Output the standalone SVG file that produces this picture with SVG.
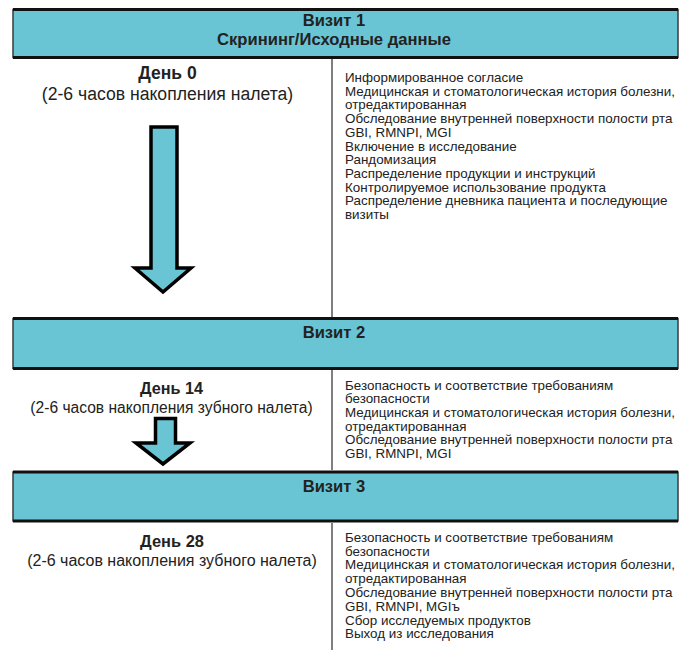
<svg xmlns="http://www.w3.org/2000/svg" width="686" height="650" viewBox="0 0 686 650">
<style>
.bg{fill:#ffffff}
.hdr{fill:#69C5D4;stroke:#3a3a3a;stroke-width:1.5}
.edge{stroke:#111;stroke-width:3}
.div{stroke:#555;stroke-width:1.5}
.t{font-family:"Liberation Sans",Arial,sans-serif;fill:#222}
.title{font-size:16.6px;font-weight:bold;text-anchor:middle}
.day{font-weight:bold;text-anchor:middle}
.sub{text-anchor:middle}
.list{font-size:13.4px}
.arrow{fill:#69C5D4;stroke:#000;stroke-width:3.5;stroke-linejoin:miter}
</style>
<rect class="bg" width="686" height="650"/>

<g id="visit1-header">
<rect class="hdr" x="13" y="9.5" width="665" height="48"/>
<line class="edge" x1="13" y1="9.5" x2="678" y2="9.5"/>
<line class="edge" x1="13" y1="57.5" x2="678" y2="57.5"/>
<text class="t title" x="334" y="26">Визит 1</text>
<text class="t title" x="334" y="45">Скрининг/Исходные данные</text>
</g>

<g id="visit1-day">
<text class="t day" x="167.5" y="79" font-size="17.5">День 0</text>
<text class="t sub" x="167.5" y="100" font-size="17.6">(2-6 часов накопления налета)</text>
</g>

<g id="visit1-list">
<text class="t list" x="345" y="82">
<tspan x="345">Информированное согласие</tspan>
<tspan x="345" dy="13.7">Медицинская и стоматологическая история болезни,</tspan>
<tspan x="345" dy="13.7">отредактированная</tspan>
<tspan x="345" dy="13.7">Обследование внутренней поверхности полости рта</tspan>
<tspan x="345" dy="13.7">GBI, RMNPI, MGI</tspan>
<tspan x="345" dy="13.7">Включение в исследование</tspan>
<tspan x="345" dy="13.7">Рандомизация</tspan>
<tspan x="345" dy="13.7">Распределение продукции и инструкций</tspan>
<tspan x="345" dy="13.7">Контролируемое использование продукта</tspan>
<tspan x="345" dy="13.7">Распределение дневника пациента и последующие</tspan>
<tspan x="345" dy="13.7">визиты</tspan>
</text>
</g>

<g id="visit2-header">
<rect class="hdr" x="13" y="318.5" width="665" height="50"/>
<line class="edge" x1="13" y1="318.5" x2="678" y2="318.5"/>
<line class="edge" x1="13" y1="368.5" x2="678" y2="368.5"/>
<text class="t title" x="334" y="338">Визит 2</text>
</g>

<g id="visit2-day">
<text class="t day" x="171.5" y="394" font-size="16.2">День 14</text>
<text class="t sub" x="171.5" y="413" font-size="15.6">(2-6 часов накопления зубного налета)</text>
</g>

<g id="visit2-list">
<text class="t list" x="345" y="389.5">
<tspan x="345">Безопасность и соответствие требованиям</tspan>
<tspan x="345" dy="13.7">безопасности</tspan>
<tspan x="345" dy="13.7">Медицинская и стоматологическая история болезни,</tspan>
<tspan x="345" dy="13.7">отредактированная</tspan>
<tspan x="345" dy="13.7">Обследование внутренней поверхности полости рта</tspan>
<tspan x="345" dy="13.7">GBI, RMNPI, MGI</tspan>
</text>
</g>

<g id="visit3-header">
<rect class="hdr" x="13" y="472" width="665" height="49"/>
<line class="edge" x1="13" y1="472" x2="678" y2="472"/>
<line class="edge" x1="13" y1="521" x2="678" y2="521"/>
<text class="t title" x="334" y="492">Визит 3</text>
</g>

<g id="visit3-day">
<text class="t day" x="172" y="547" font-size="16.4">День 28</text>
<text class="t sub" x="172" y="566" font-size="16">(2-6 часов накопления зубного налета)</text>
</g>

<g id="visit3-list">
<text class="t list" x="345" y="541.8">
<tspan x="345">Безопасность и соответствие требованиям</tspan>
<tspan x="345" dy="13.8">безопасности</tspan>
<tspan x="345" dy="13.8">Медицинская и стоматологическая история болезни,</tspan>
<tspan x="345" dy="13.8">отредактированная</tspan>
<tspan x="345" dy="13.8">Обследование внутренней поверхности полости рта</tspan>
<tspan x="345" dy="13.8">GBI, RMNPI, MGIъ</tspan>
<tspan x="345" dy="13.8">Сбор исследуемых продуктов</tspan>
<tspan x="345" dy="13.8">Выход из исследования</tspan>
</text>
</g>

<g id="connectors">
<line class="div" x1="332" y1="59" x2="332" y2="317"/>
<line class="div" x1="332" y1="370" x2="332" y2="470"/>
<line class="div" x1="332" y1="523" x2="332" y2="650"/>
<polygon class="arrow" points="151,127 177,127 177,268 191,268 163,292 135,268 151,268"/>
<polygon class="arrow" points="155.5,418.5 175.5,418.5 175.5,443 190,443 163,464 136,443 155.5,443"/>
</g>
</svg>
